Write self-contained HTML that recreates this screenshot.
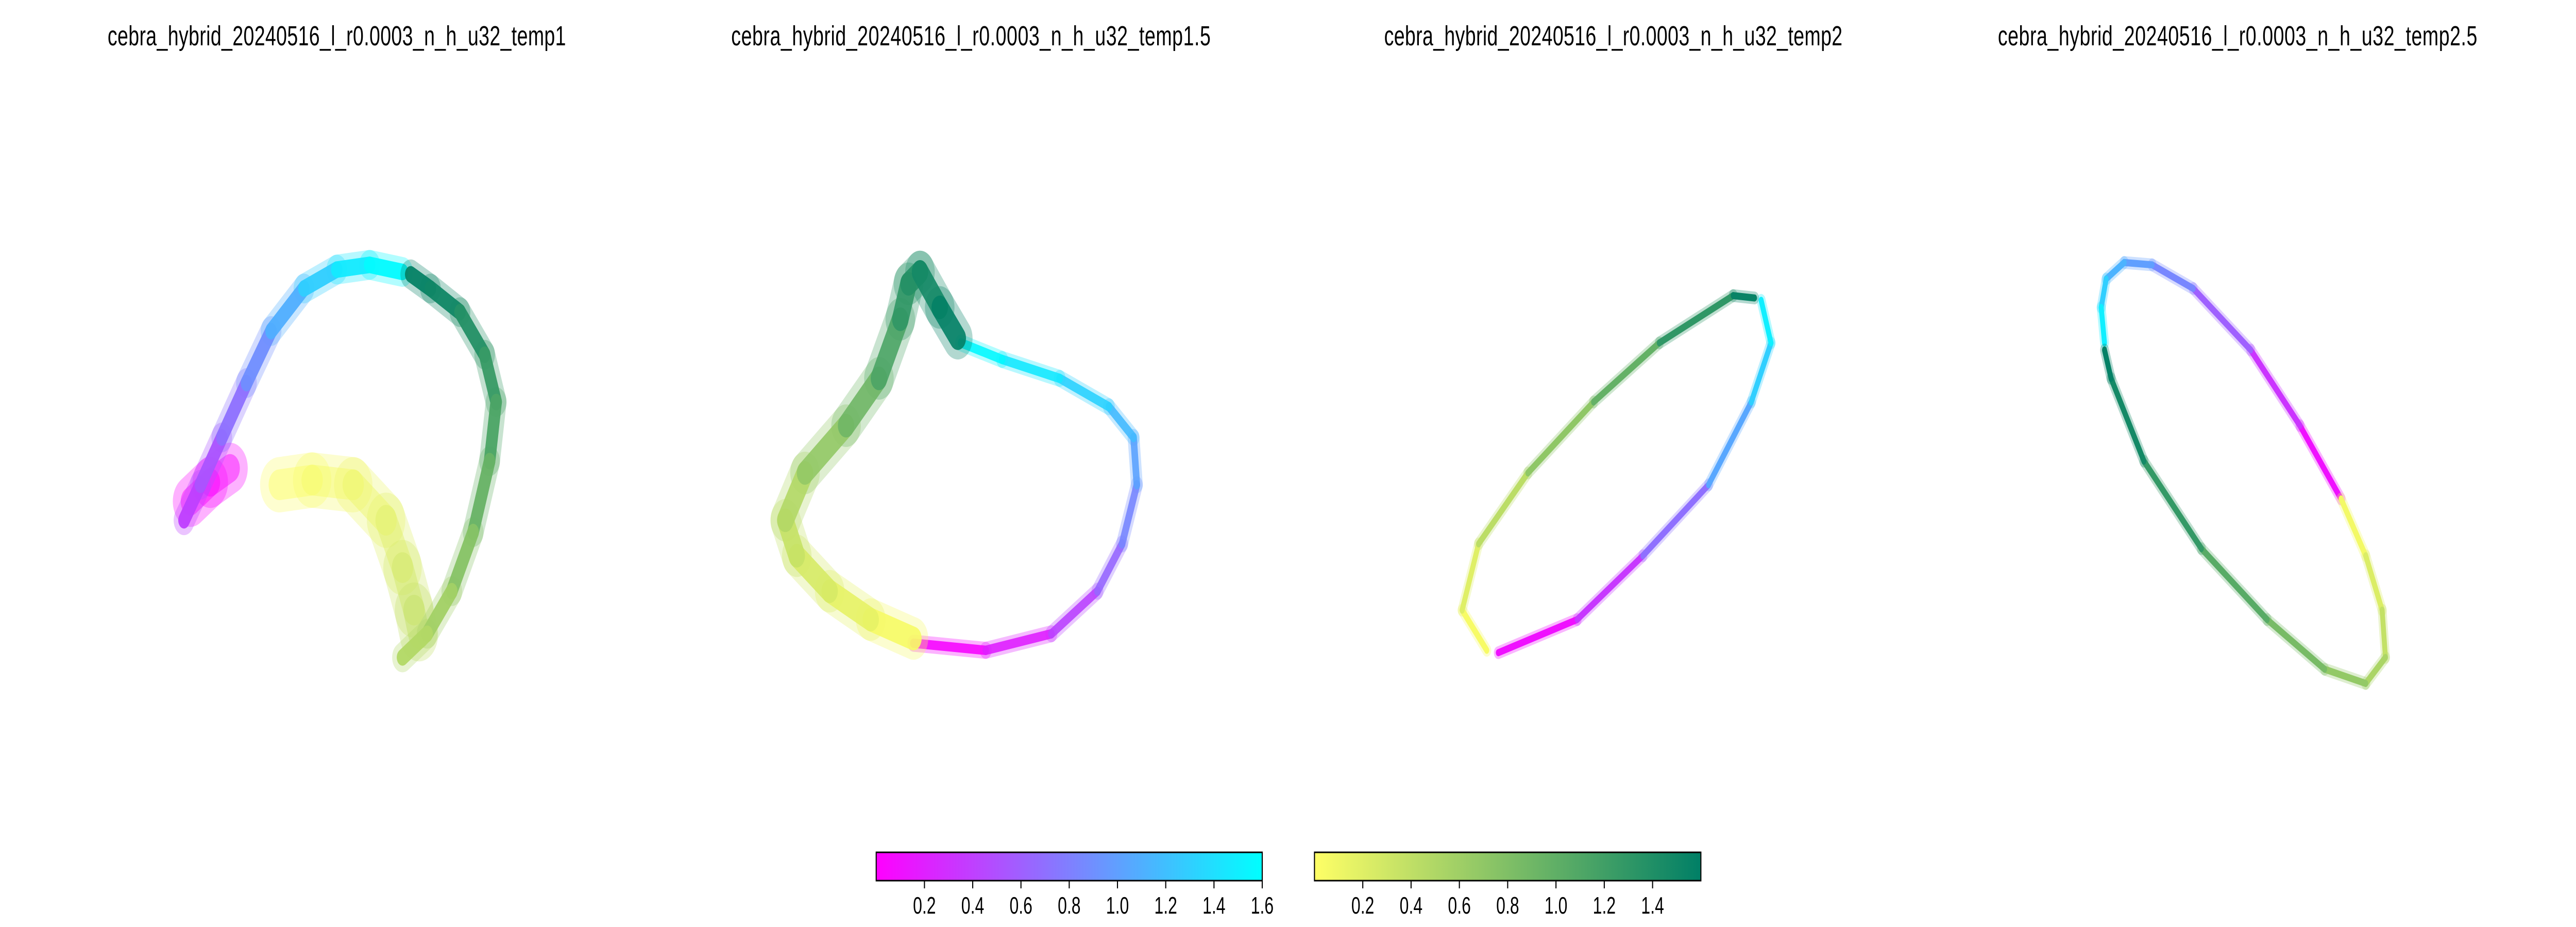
<!DOCTYPE html>
<html><head><meta charset="utf-8">
<style>html,body{margin:0;padding:0;background:#fff;width:100%;height:100%;overflow:hidden;}svg{display:block;width:100vw;height:100vh;}</style>
</head><body>
<svg id="fig" viewBox="0 0 7200 1800" preserveAspectRatio="none" xmlns="http://www.w3.org/2000/svg" font-family="'Liberation Sans','DejaVu Sans',sans-serif">
<defs>
<linearGradient id="coolG" x1="0" x2="1" y1="0" y2="0"><stop offset="0" stop-color="#ff00ff"/><stop offset="1" stop-color="#00ffff"/></linearGradient>
<linearGradient id="summerG" x1="0" x2="1" y1="0" y2="0"><stop offset="0" stop-color="#ffff66"/><stop offset="1" stop-color="#007f66"/></linearGradient>
</defs>
<g id="panels"></g>
<g>
<rect x="2449" y="1655" width="1079" height="55" fill="url(#coolG)" stroke="#000" stroke-width="3"/>
<g id="cb1ticks"></g>
</g>
<g>
<rect x="3674" y="1655" width="1080" height="55" fill="url(#summerG)" stroke="#000" stroke-width="3"/>
<g id="cb2ticks"></g>
</g>
</svg>
<script>
// Titles
const titles = ["cebra_hybrid_20240516_l_r0.0003_n_h_u32_temp1","cebra_hybrid_20240516_l_r0.0003_n_h_u32_temp1.5","cebra_hybrid_20240516_l_r0.0003_n_h_u32_temp2","cebra_hybrid_20240516_l_r0.0003_n_h_u32_temp2.5"];
const titleCenters = [205, 591, 982, 1362];
// Panel 1 curves [x, y, value]
const p1CoolX = [112,122,135,150,165,185,205,225,245];
const p1CoolY = [220,205,185,162,140,122,114,112,115];
const p1CoolV = [0.35,0.45,0.6,0.8,1.0,1.2,1.4,1.55,1.6];
const p1SumX = [250,262,280,295,302,298,288,275,260,245];
const p1SumY = [116,122,132,150,170,195,225,250,268,278];
const p1SumV = [1.58,1.55,1.45,1.3,1.2,1.05,0.85,0.65,0.5,0.45];
const p1YelX = [170,190,215,235,245,252,255];
const p1YelY = [205,203,205,220,240,258,268];
const p1YelV = [0.0,0.03,0.08,0.15,0.25,0.35,0.42];
const p1MagX = [116,128,140];
const p1MagY = [212,204,198];
const p1MagV = [0.0,0.02,0.04];
// Panel 2
const p2CoolX = [556,600,640,668,683,692,690,675,645,610,585];
const p2CoolY = [272,275,268,250,230,205,185,172,160,152,145];
const p2CoolV = [0.0,0.1,0.3,0.55,0.75,0.95,1.1,1.25,1.4,1.52,1.6];
const p2SumX = [556,530,505,485,478,490,515,535,548,553,560,572,583];
const p2SumY = [270,262,250,235,220,200,180,160,135,120,115,130,143];
const p2SumV = [0.0,0.1,0.2,0.3,0.4,0.55,0.8,1.0,1.25,1.35,1.4,1.55,1.6];
// Panel 3
const p3CoolX = [912,960,1000,1040,1066,1078,1072];
const p3CoolY = [276,262,235,205,170,145,127];
const p3CoolV = [0.0,0.2,0.5,0.9,1.2,1.4,1.6];
const p3SumX = [905,890,900,930,970,1010,1055,1068];
const p3SumY = [275,258,230,200,170,145,125,126];
const p3SumV = [0.0,0.1,0.3,0.55,0.85,1.1,1.5,1.6];
// Panel 4
const p4CoolX = [1425,1400,1370,1335,1310,1293,1282,1279,1281];
const p4CoolY = [211,180,148,122,112,111,118,130,145];
const p4CoolV = [0.0,0.2,0.45,0.75,0.95,1.05,1.2,1.4,1.6];
const p4SumX = [1425,1440,1450,1452,1440,1415,1380,1340,1305,1285,1281];
const p4SumY = [211,235,258,278,289,283,262,232,195,160,148];
const p4SumV = [0.0,0.15,0.3,0.45,0.6,0.75,0.95,1.15,1.4,1.55,1.6];
// Colorbar ticks
const coolTicks = [0.2,0.4,0.6,0.8,1.0,1.2,1.4,1.6];
const sumTicks = [0.2,0.4,0.6,0.8,1.0,1.2,1.4];

const S = 7200/1568;
const NS = 'http://www.w3.org/2000/svg';
const sx = v => v*S, sy = v => v*S;
const vmax = 1.6;
function cool(v){const t=Math.max(0,Math.min(1,v/vmax));return `rgb(${Math.round(255*(1-t))},${Math.round(255*t)},255)`;}
function summer(v){const t=Math.max(0,Math.min(1,v/vmax));const x=1-t;return `rgb(${Math.round(255*x)},${Math.round(255*(0.5+0.5*x))},102)`;}
const panels = document.getElementById('panels');
function drawPath(name, xs, ys, vs, cmap, w, op){
  const g = document.createElementNS(NS,'g');
  
  
  [[w*1.8,0.3],[w,op]].forEach(([ww,oo])=>{
    for(let i=0;i<xs.length-1;i++){
      const l=document.createElementNS(NS,'line');
      l.setAttribute('x1',sx(xs[i]));l.setAttribute('y1',sy(ys[i]));
      l.setAttribute('x2',sx(xs[i+1]));l.setAttribute('y2',sy(ys[i+1]));
      l.setAttribute('stroke',cmap((vs[i]+vs[i+1])/2));
      l.setAttribute('stroke-width',ww*S);l.setAttribute('stroke-linecap','round');
      l.setAttribute('opacity',oo);
      
      
      g.appendChild(l);
    }
  });
  panels.appendChild(g);
}
drawPath('p1-yellow-cloud',p1YelX,p1YelY,p1YelV,summer,13,0.45);
drawPath('p1-magenta-cloud',p1MagX,p1MagY,p1MagV,cool,12,0.45);
drawPath('p1-cool-band',p1CoolX,p1CoolY,p1CoolV,cool,7,0.95);
drawPath('p1-summer-band',p1SumX,p1SumY,p1SumV,summer,7,0.95);
drawPath('p2-cool-band',p2CoolX,p2CoolY,p2CoolV,cool,4,0.9);
drawPath('p2-summer-band',p2SumX,p2SumY,p2SumV,summer,10,0.9);
drawPath('p3-cool-band',p3CoolX,p3CoolY,p3CoolV,cool,3,1);
drawPath('p3-summer-band',p3SumX,p3SumY,p3SumV,summer,3,1);
drawPath('p4-cool-band',p4CoolX,p4CoolY,p4CoolV,cool,3,1);
drawPath('p4-summer-band',p4SumX,p4SumY,p4SumV,summer,3,1);

const fig = document.getElementById('fig');
titles.forEach((t,i)=>{
  const tx=document.createElementNS(NS,'text');
  tx.setAttribute('x',sx(titleCenters[i]));tx.setAttribute('y',88);
  tx.setAttribute('text-anchor','middle');tx.setAttribute('font-size',54);
  tx.setAttribute('textLength', t.length>46?1340:1281);
  
  
  tx.textContent=t;fig.appendChild(tx);
});
function ticks(id, x0, width, vals){
  const g=document.getElementById(id);
  vals.forEach(v=>{
    const x=x0+width*v/vmax;
    const l=document.createElementNS(NS,'line');
    l.setAttribute('x1',x);l.setAttribute('x2',x);l.setAttribute('y1',1711);l.setAttribute('y2',1725);
    l.setAttribute('stroke','#000');l.setAttribute('stroke-width',3);
    
    
    g.appendChild(l);
    const t=document.createElementNS(NS,'text');
    t.setAttribute('x',x);t.setAttribute('y',1774);t.setAttribute('text-anchor','middle');t.setAttribute('font-size',46);
    
    
    t.textContent=v.toFixed(1);g.appendChild(t);
  });
}
ticks('cb1ticks',2449,1079,coolTicks);
ticks('cb2ticks',3674,1080,sumTicks);
</script>
</body></html>
